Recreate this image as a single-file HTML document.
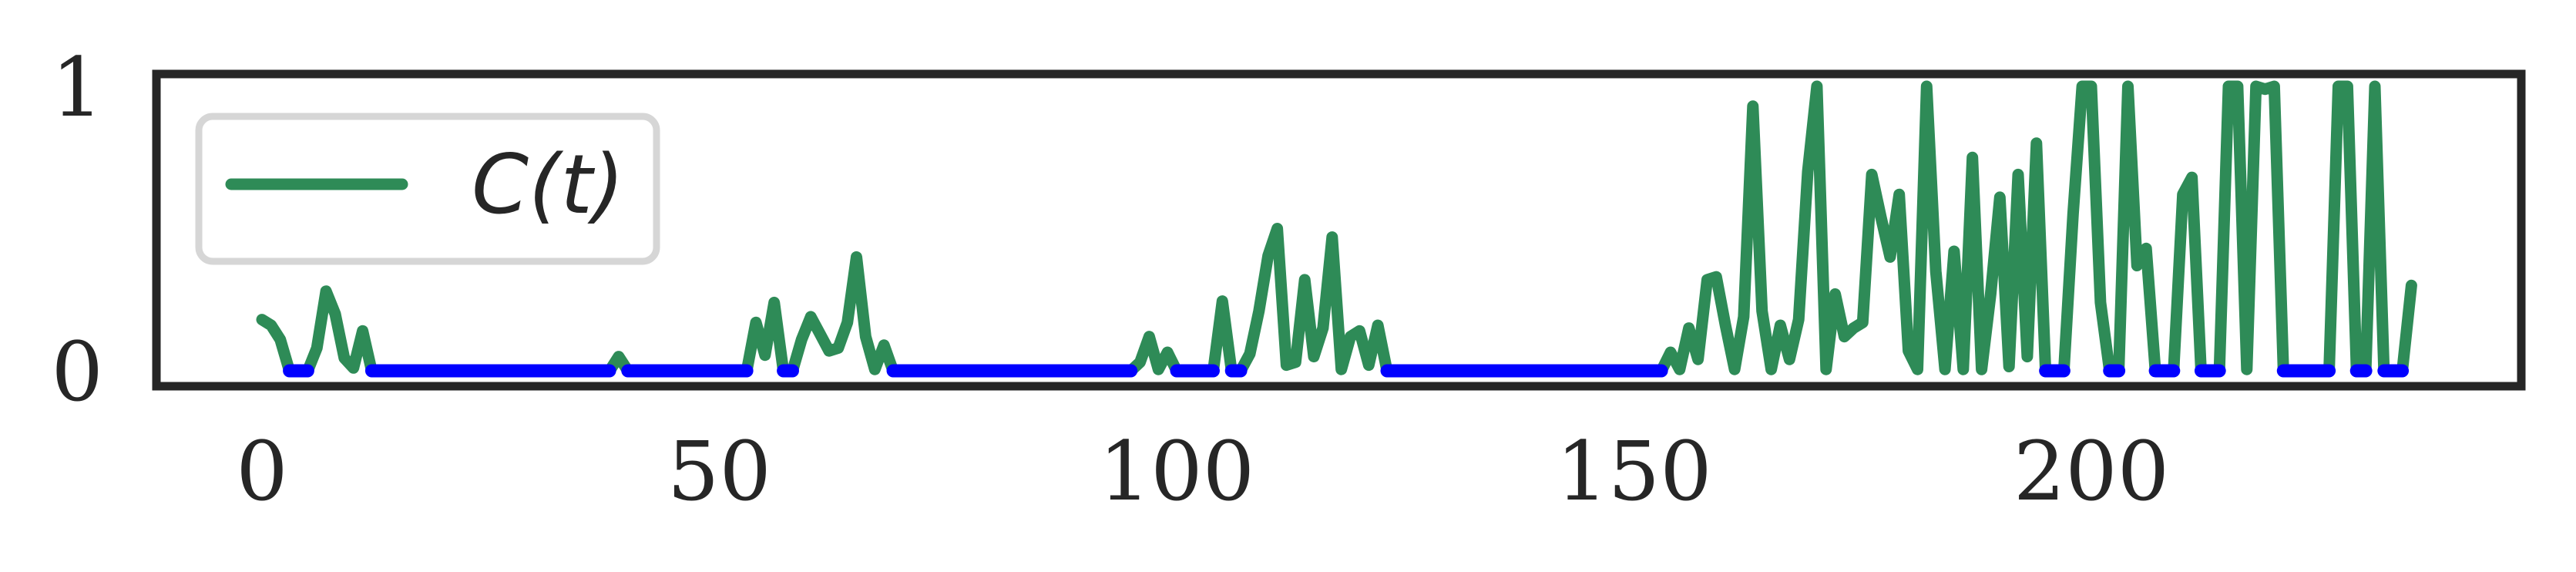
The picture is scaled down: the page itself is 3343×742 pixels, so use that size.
<!DOCTYPE html>
<html><head><meta charset="utf-8"><style>
html,body{margin:0;padding:0;background:#fff;}
svg{display:block;}
</style></head><body>
<svg id="chart" width="3343" height="742" viewBox="0 0 3343 742" xmlns="http://www.w3.org/2000/svg">
<rect x="0" y="0" width="3343" height="742" fill="#fff"/>
<g id="plot"></g>
<rect x="203" y="96" width="3069" height="405" fill="none" stroke="#262626" stroke-width="11"/>
<g id="xticks"></g>
<g id="yticks"></g>
<g>
<rect x="258" y="151" width="594" height="188" rx="18" ry="18" fill="#fff" stroke="#d6d6d6" stroke-width="9"/>
<line x1="300" y1="239" x2="522" y2="239" stroke="#2e8b57" stroke-width="15" stroke-linecap="round"/>
<text x="612" y="276" font-family="DejaVu Sans, sans-serif" font-style="italic" font-size="106" fill="#262626">C(t)</text>
</g>
</svg>
<script>
const values = [0.18,0.16,0.11,0,0,0,0.08,0.28,0.2,0.045,0.01,0.14,
0,0,0,0,0,0,0,0,0,0,0,0,0,0,0,0,0,0,0,0,0,0,0,0,0,0,0,
0.05,0,0,0,0,0,0,0,0,0,0,0,0,0,0,
0.17,0.055,0.24,0,0,0.11,0.19,0.13,0.07,0.08,0.17,0.40,0.12,0.005,0.09,
0,0,0,0,0,0,0,0,0,0,0,0,0,0,0,0,0,0,0,0,0,0,0,0,0,0,0,
0.03,0.12,0.005,0.065,0,0,0,0,0,0.245,0,0,0.06,0.21,0.405,0.5,0.02,0.03,0.32,0.05,0.15,0.47,0.005,0.12,0.14,0.02,0.16,
0,0,0,0,0,0,0,0,0,0,0,0,0,0,0,0,0,0,0,0,0,0,0,0,0,0,0,0,0,0,0,
0.065,0.005,0.15,0.04,0.32,0.33,0.16,0.005,0.19,0.93,0.21,0.005,0.16,0.04,0.18,0.70,1.0,0.005,0.27,0.12,0.15,0.17,0.69,0.54,0.40,0.62,0.07,0.005,1.0,0.35,0.005,0.42,0.005,0.75,0.005,0.27,0.61,0.015,0.69,0.05,0.80,
0,0,0,0.55,1.0,1.0,0.24,0,0,1.0,0.37,0.43,0,0,0,0.62,0.68,0,0,0,1.0,1.0,0.005,1.0,0.99,1.0,
0,0,0,0,0,0,1.0,1.0,0,0,1.0,0,0,0,0.30];
const xTicks = [0,50,100,150,200];
const yTicks = [0,1];
const X0=340, XS=11.87, Y0=481, Y1=112;
const sx = t => X0 + t*XS;
const sy = v => Y0 - v*(Y0-Y1);
const NS='http://www.w3.org/2000/svg';
const plot=document.getElementById('plot');
let d='';
values.forEach((v,i)=>{d+=(i?'L':'M')+sx(i).toFixed(1)+' '+sy(v).toFixed(1)+' ';});
const g=document.createElementNS(NS,'path');
g.setAttribute('d',d);g.setAttribute('fill','none');g.setAttribute('stroke','#2e8b57');
g.setAttribute('stroke-width','15');g.setAttribute('stroke-linejoin','round');g.setAttribute('stroke-linecap','round');


plot.appendChild(g);
let i=0;
while(i<values.length){
  if(values[i]===0){
    let j=i; while(j+1<values.length && values[j+1]===0) j++;
    const l=document.createElementNS(NS,'line');
    l.setAttribute('x1',sx(i));l.setAttribute('x2',sx(j));
    l.setAttribute('y1',sy(0));l.setAttribute('y2',sy(0));
    l.setAttribute('stroke','#0000ff');l.setAttribute('stroke-width','17');l.setAttribute('stroke-linecap','round');
    
    
    plot.appendChild(l);
    i=j+1;
  } else i++;
}
const xt=document.getElementById('xticks');
xTicks.forEach(t=>{
  const tx=document.createElementNS(NS,'text');
  tx.setAttribute('x',sx(t));tx.setAttribute('y',648);tx.setAttribute('text-anchor','middle');
  tx.setAttribute('font-family','DejaVu Serif, Liberation Serif, serif');tx.setAttribute('font-size','106');tx.setAttribute('fill','#262626');
  tx.textContent=t;
  
  
  xt.appendChild(tx);
});
const yt=document.getElementById('yticks');
yTicks.forEach(t=>{
  const tx=document.createElementNS(NS,'text');
  tx.setAttribute('x',134);tx.setAttribute('y',sy(t)+38);tx.setAttribute('text-anchor','end');
  tx.setAttribute('font-family','DejaVu Serif, Liberation Serif, serif');tx.setAttribute('font-size','106');tx.setAttribute('fill','#262626');
  tx.textContent=t;
  
  
  yt.appendChild(tx);
});
</script>
</body></html>
